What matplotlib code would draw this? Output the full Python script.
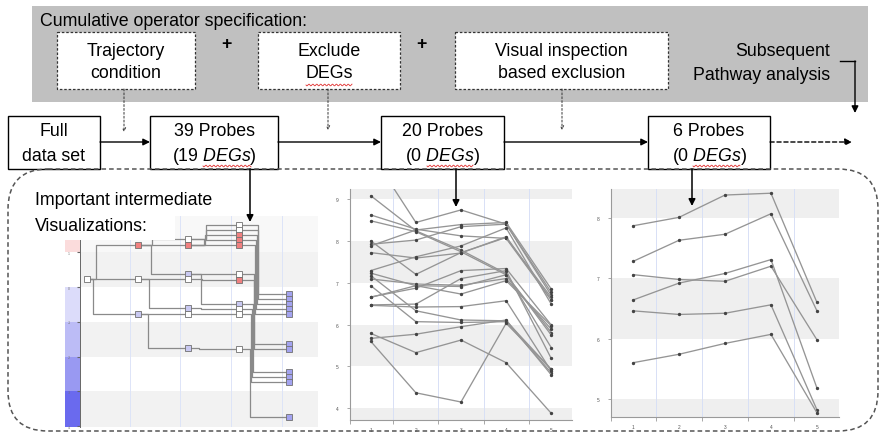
import numpy as np
import matplotlib
matplotlib.use("Agg")
import matplotlib.pyplot as plt
from matplotlib.patches import Rectangle, FancyBboxPatch

plt.rcParams['font.family'] = ['Liberation Sans', 'DejaVu Sans']
plt.rcParams['mathtext.fontset'] = 'custom'
plt.rcParams['mathtext.rm'] = 'Liberation Sans'
plt.rcParams['mathtext.it'] = 'Liberation Sans:italic'

W, H = 881, 435

# ---------------- data ----------------
time_points = [1, 2, 3, 4, 5]

# 20 probes after excluding DEGs
probes_20 = [
    [10.1, 8.44, 8.74, 8.40, 6.70],
    [9.08, 8.24, 7.78, 7.22, 5.45],
    [8.62, 8.28, 8.12, 8.06, 6.59],
    [8.48, 8.22, 7.74, 7.19, 5.81],
    [8.00, 7.20, 7.72, 8.08, 6.65],
    [7.92, 8.02, 8.34, 8.40, 6.77],
    [7.88, 8.26, 8.39, 8.44, 6.85],
    [7.72, 7.59, 7.71, 8.10, 6.59],
    [7.29, 7.62, 7.88, 8.31, 6.49],
    [7.23, 6.93, 6.91, 7.19, 5.75],
    [7.17, 6.33, 6.11, 6.09, 4.93],
    [7.09, 6.97, 6.94, 7.10, 5.89],
    [6.93, 6.07, 6.05, 6.07, 4.85],
    [6.66, 6.87, 7.29, 7.34, 5.99],
    [6.65, 6.93, 6.73, 7.05, 5.97],
    [6.47, 6.49, 7.10, 7.29, 5.19],
    [6.46, 6.42, 6.43, 6.57, 4.89],
    [5.79, 5.33, 5.63, 5.09, 3.88],
    [5.67, 5.77, 5.95, 6.11, 4.80],
    [5.60, 4.37, 4.15, 6.03, 4.93],
]

# 6 probes after visual inspection
probes_6 = [
    [7.87, 8.01, 8.38, 8.41, 6.60],
    [7.28, 7.63, 7.73, 8.07, 6.46],
    [7.06, 6.98, 6.95, 7.20, 5.98],
    [6.64, 6.92, 7.08, 7.31, 5.18],
    [6.46, 6.40, 6.42, 6.56, 4.82],
    [5.60, 5.74, 5.92, 6.07, 4.77],
]

# trajectory tree: nodes per time point (value, colour kind)
tree_nodes = [
    [(0.23, 'w')],
    [(1.22, 'r'), (0.23, 'w'), (-0.78, 'lb')],
    [(1.38, 'w'), (1.22, 'r'), (0.37, 'lb'), (0.23, 'w'), (-0.61, 'lb'), (-0.78, 'w'), (-1.76, 'lb')],
    [(1.79, 'w'), (1.64, 'w'), (1.50, 'r'), (1.36, 'r'), (1.22, 'r'), (0.37, 'w'), (0.21, 'r'),
     (-0.49, 'lb'), (-0.63, 'w'), (-0.78, 'w'), (-1.78, 'w')],
    [(-0.20, 'b'), (-0.34, 'b'), (-0.49, 'b'), (-0.63, 'b'), (-0.78, 'b'), (-1.64, 'b'), (-1.78, 'b'),
     (-2.44, 'b'), (-2.59, 'b'), (-2.73, 'b'), (-3.74, 'b')],
]
tree_edges = [
    (1, 0.23, 1.22), (1, 0.23, 0.23), (1, 0.23, -0.78),
    (2, 1.22, 1.38), (2, 1.22, 1.22), (2, 1.22, 0.37), (2, 0.23, 0.23), (2, 0.23, -0.61),
    (2, -0.78, -0.78), (2, -0.78, -1.76),
    (3, 1.38, 1.79), (3, 1.38, 1.64), (3, 1.22, 1.50), (3, 1.22, 1.36), (3, 1.22, 1.22),
    (3, 0.37, 0.37), (3, 0.23, 0.21), (3, 0.37, -0.49), (3, -0.61, -0.63), (3, -0.78, -0.78),
    (3, -1.76, -1.78),
    (4, 1.79, -0.20), (4, 1.64, -0.34), (4, 1.50, -0.49), (4, 1.36, -0.63), (4, 1.22, -0.78),
    (4, 0.37, -1.64), (4, 0.21, -1.78), (4, -0.49, -2.44), (4, -0.63, -2.59), (4, -0.78, -2.73),
    (4, -1.78, -3.74),
]
node_colors = {'w': 'white', 'r': '#f08080', 'lb': '#c9c9f2', 'b': '#a3a3f0'}
scale_bands = [(1, 1.35, '#fbdcdc'), (0, 1, 'white'), (-1, 0, '#dcdcfa'),
               (-2, -1, '#bcbcf6'), (-3, -2, '#9999f2'), (-4.02, -3, '#6a6aee')]

operators = [("Trajectory", "condition"), ("Exclude", "DEGs"), ("Visual inspection", "based exclusion")]
probe_counts = ["39", "20", "6"]
deg_counts = ["19", "0", "0"]


def frac(x0, y0, x1, y1):
    return [x0 / W, 1 - y1 / H, (x1 - x0) / W, (y1 - y0) / H]


fig = plt.figure(figsize=(W / 100, H / 100), dpi=100)
fig.patch.set_facecolor('white')


def line_chart(rect, series, xlim, ylim, bands, yticks):
    a = fig.add_axes(frac(*rect))
    a.set_xlim(*xlim)
    a.set_ylim(*ylim)
    for b0, b1 in bands:
        a.axhspan(b0, b1, color='#efefef', lw=0, zorder=0)
    for gx in [1.5, 2.5, 3.5, 4.5]:
        a.axvline(gx, color='#d8e0f6', lw=0.7, zorder=0.5)
    for s in series:
        a.plot(time_points, s, color='#959595', lw=0.95, marker='o', ms=1.4,
               mfc='#444444', mec='#444444', zorder=2)
    for sp in ['top', 'right']:
        a.spines[sp].set_visible(False)
    for sp in ['left', 'bottom']:
        a.spines[sp].set_color('#9a9a9a')
        a.spines[sp].set_linewidth(0.8)
    a.set_yticks(yticks)
    a.set_xticks(time_points)
    a.set_xticks([xlim[0], 1.5, 2.5, 3.5, 4.5], minor=True)
    a.tick_params(axis='x', which='major', length=0, labelsize=3.5, labelcolor='#555', pad=5)
    a.tick_params(axis='x', which='minor', length=3, color='#9a9a9a', width=0.6)
    a.tick_params(axis='y', length=2.5, color='#9a9a9a', width=0.6, labelsize=3.5, labelcolor='#555', pad=6)
    return a


line_chart((350, 190, 572, 421), probes_20, (0.54, 5.46), (3.72, 9.24),
           [(3, 4), (5, 6), (7, 8), (9, 10)], [4, 5, 6, 7, 8, 9])
line_chart((611, 190, 839, 418), probes_6, (0.52, 5.48), (4.70, 8.48),
           [(4, 5), (6, 7), (8, 9)], [5, 6, 7, 8])

# ---- trajectory tree ----
ta = fig.add_axes(frac(80, 217, 318, 428))
ta.set_xlim(0.86, 5.57)
ta.set_ylim(-4.02, 2.04)
ta.axis('off')
ta.axhspan(1, 2.04, color='#f8f8f8', lw=0, zorder=0)
for b0, b1 in [(0, 1), (-2, -1), (-4.02, -3)]:
    ta.axhspan(b0, b1, color='#f2f2f2', lw=0, zorder=0)
for gx in [1.85, 2.84, 3.85, 4.86]:
    ta.axvline(gx, color='#dde4f8', lw=0.7, zorder=0.5)

offsets = {1: (0.18, 0.12), 2: (0.29, 0.20), 3: (0.36, 0.22), 4: (0.39, 0.23)}
for c in [1, 2, 3, 4]:
    ed = [e for e in tree_edges if e[0] == c]
    b0, b1 = offsets[c]
    for k, (_, v0, v1) in enumerate(ed):
        xv = c + b0 + (b1 - b0) * k / max(len(ed) - 1, 1)
        ta.plot([c, xv, xv, c + 1], [v0, v0, v1, v1], color='#8a8a8a', lw=0.9, zorder=1)
for i, col in enumerate(tree_nodes):
    for v, kind in col:
        ta.plot(i + 1, v, marker='s', ms=4.1, mfc=node_colors[kind], mec='#707070',
                mew=0.6, zorder=3)

ca = fig.add_axes(frac(65, 241, 80, 428))
ca.set_xlim(0, 1)
ca.set_ylim(-4.02, 1.35)
for b0, b1, colr in scale_bands:
    ca.axhspan(b0, b1, color=colr, lw=0)
for sp in ['top', 'left', 'bottom']:
    ca.spines[sp].set_visible(False)
ca.spines['right'].set_color('#666')
ca.spines['right'].set_linewidth(0.7)
ca.set_xticks([])
ca.set_yticks([1, 0, -1, -2, -3, -4])
ca.set_yticklabels(['1', '0', '-1', '-2', '-3', '-4'])
ca.yaxis.tick_right()
ca.tick_params(axis='y', direction='in', length=2, color='#666', labelsize=2.5,
               labelcolor='#777', pad=-9)

# ---------------- overlay diagram ----------------
ax = fig.add_axes([0, 0, 1, 1])
ax.set_xlim(0, W)
ax.set_ylim(H, 0)
ax.axis('off')
ax.patch.set_alpha(0)

FS = 12.8

# white cover for tree top-left
ax.add_patch(Rectangle((80, 214), 95, 27, fc='white', ec='none', zorder=1))

# gray operator panel
ax.add_patch(Rectangle((32, 7), 836, 96, fc='#c0c0c0', ec='none', zorder=1))
ax.text(40, 22, "Cumulative operator specification:", fontsize=FS, va='center', ha='left', zorder=3)

op_boxes = [(57, 195), (258, 400), (455, 668)]
for (x0, x1), (l1, l2) in zip(op_boxes, operators):
    ax.add_patch(Rectangle((x0, 33), x1 - x0, 57, fc='white', ec='#333',
                           ls=(0, (2, 1.5)), lw=0.9, zorder=2))
    xc = (x0 + x1) / 2
    ax.text(xc, 51, l1, fontsize=FS, ha='center', va='center', zorder=3)
    ax.text(xc, 74, l2, fontsize=FS, ha='center', va='center', zorder=3)
for px in [226, 421]:
    ax.text(px, 45, "+", fontsize=FS, fontweight='bold', ha='center', va='center', zorder=3)

ax.text(830, 52, "Subsequent", fontsize=FS, ha='right', va='center', zorder=3)
ax.text(830, 75, "Pathway analysis", fontsize=FS, ha='right', va='center', zorder=3)
ax.plot([840, 855], [62, 62], color='black', lw=1.0, zorder=3)
ax.annotate('', xy=(855, 114), xytext=(855, 62),
            arrowprops=dict(arrowstyle='-|>', color='black', lw=1.0, mutation_scale=10,
                            shrinkA=0, shrinkB=0), zorder=3)

# dashed operator arrows
for px, ty in [(124, 133), (328, 131), (562, 131)]:
    ax.annotate('', xy=(px, ty), xytext=(px, 90),
                arrowprops=dict(arrowstyle='->', color='#333', lw=0.7, ls=(0, (2, 2)),
                                mutation_scale=6, shrinkA=0, shrinkB=0), zorder=3)

# flow boxes
flow_boxes = [(8, 100), (150, 278), (381, 504), (648, 770)]
for x0, x1 in flow_boxes:
    ax.add_patch(Rectangle((x0, 117), x1 - x0, 53, fc='white', ec='black', lw=1.0, zorder=2))
ax.text(54, 132, "Full", fontsize=FS, ha='center', va='center', zorder=3)
ax.text(54, 157, "data set", fontsize=FS, ha='center', va='center', zorder=3)
for (x0, x1), n, d in zip(flow_boxes[1:], probe_counts, deg_counts):
    xc = (x0 + x1) / 2
    ax.text(xc, 132, f"{n} Probes", fontsize=FS, ha='center', va='center', zorder=3)
    ax.text(xc, 157, "(" + r"$\mathit{" + d + r"\ DEGs}$" + ")", fontsize=FS,
            ha='center', va='center', zorder=3)


def squiggle(x0, x1, y):
    xs = np.linspace(x0, x1, 60)
    ax.plot(xs, y + 0.9 * np.sin((xs - x0) * 1.6), color='#e03030', lw=0.6, zorder=4)


for x0, x1, y in [(306, 352, 86), (203, 251, 167), (427, 473, 167), (693, 740, 167)]:
    squiggle(x0, x1, y)

# main arrows
for xa, xb in [(100, 150), (278, 381), (504, 648)]:
    ax.annotate('', xy=(xb, 143), xytext=(xa, 143),
                arrowprops=dict(arrowstyle='-|>', color='black', lw=1.0, mutation_scale=10,
                                shrinkA=0, shrinkB=0), zorder=3)
ax.annotate('', xy=(852, 143), xytext=(770, 143),
            arrowprops=dict(arrowstyle='-|>', color='black', lw=1.0, ls=(0, (3, 2)),
                            mutation_scale=10, shrinkA=0, shrinkB=0), zorder=3)

# rounded dashed frame for visualisations
ax.add_patch(FancyBboxPatch((8, 170), 870, 262, boxstyle='round,pad=0,rounding_size=40',
                            fc='none', ec='#555', ls=(0, (3, 2)), lw=1.1, zorder=2))

for px, ty in [(250, 223), (456, 208), (692, 207)]:
    ax.annotate('', xy=(px, ty), xytext=(px, 170),
                arrowprops=dict(arrowstyle='-|>', color='black', lw=1.1, mutation_scale=10,
                                shrinkA=0, shrinkB=0), zorder=5)

ax.text(35, 201, "Important intermediate", fontsize=FS, ha='left', va='center', zorder=3)
ax.text(35, 227, "Visualizations:", fontsize=FS, ha='left', va='center', zorder=3)

fig.savefig("out.png", dpi=100)
